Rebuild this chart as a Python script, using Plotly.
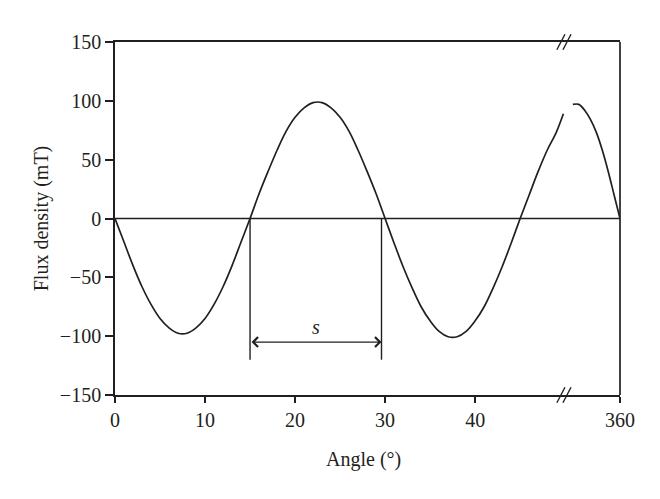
import plotly.graph_objects as go

# ---- data ----
angle_left = [0, 1, 2, 3, 4, 5, 6, 7, 8, 9, 10, 11, 12, 13, 14, 15,
              16, 17, 18, 19, 20, 21, 22, 23, 24, 25, 26, 27, 28, 29, 30,
              31, 32, 33, 34, 35, 36, 37, 38, 39, 40, 41, 42, 43, 44, 45,
              46, 47, 48, 49, 49.8]
flux_left = [0, -20, -40, -58, -73, -85, -93, -97.5, -97.5, -93, -85, -73, -58, -40, -20, 0,
             21, 40, 58, 74, 86, 94, 98.5, 98.5, 94, 86, 74, 58, 40, 21, 0,
             -21, -41, -59, -75, -87, -96, -100.5, -100.5, -96, -87, -75, -59, -41, -21, 0,
             20, 40, 58, 73, 89]
angle_right = [352, 353, 354, 355, 356, 357, 358, 359, 360]
flux_right = [97, 97, 92, 84, 73, 58, 40, 20, 0]

x_ticks_left = [0, 10, 20, 30, 40]
x_ticks_right = [360]
y_ticks = [-150, -100, -50, 0, 50, 100, 150]
s_start, s_end = 15, 29.6

INK = "#231f20"
FONT = "Liberation Serif"
FS = 20
SPLIT = 0.895

fig = go.Figure()
fig.add_trace(go.Scatter(x=angle_left, y=flux_left, mode="lines",
                         line=dict(color=INK, width=1.7, shape="spline", smoothing=1.0),
                         xaxis="x", yaxis="y", showlegend=False, hoverinfo="skip"))
fig.add_trace(go.Scatter(x=angle_right, y=flux_right, mode="lines",
                         line=dict(color=INK, width=1.7, shape="spline", smoothing=1.0),
                         xaxis="x2", yaxis="y", showlegend=False, hoverinfo="skip"))

common_x = dict(showline=True, linecolor=INK, linewidth=1.7, mirror=True, ticks="outside", ticklen=6,
                tickwidth=1.5, tickcolor=INK, showgrid=False, zeroline=False,
                tickfont=dict(family=FONT, size=FS, color=INK))

fig.update_layout(
    width=660, height=499,
    margin=dict(l=107, r=48, t=34, b=112),
    paper_bgcolor="white", plot_bgcolor="white",
    xaxis=dict(domain=[0, SPLIT], range=[0, 50.2], tickvals=x_ticks_left, **common_x),
    xaxis2=dict(domain=[SPLIT, 1], range=[351, 360], tickvals=x_ticks_right, anchor="y", **common_x),
    yaxis=dict(range=[-150, 150], tickvals=y_ticks, showline=True, linecolor=INK, linewidth=1.7, mirror=False,
               ticks="outside", ticklen=8, tickwidth=1.5, tickcolor=INK, showgrid=False, zeroline=False,
               tickfont=dict(family=FONT, size=FS, color=INK)),
)

shapes = []
# right border of the frame
shapes.append(dict(type="line", xref="paper", yref="paper", x0=1, x1=1, y0=0, y1=1,
                   line=dict(color=INK, width=1.7)))
# zero line across the whole plot
shapes.append(dict(type="line", xref="paper", yref="y", x0=0, x1=1, y0=0, y1=0, line=dict(color=INK, width=1.4)))
# vertical markers for s
for xv in (s_start, s_end):
    shapes.append(dict(type="line", xref="x", yref="y", x0=xv, x1=xv, y0=0, y1=-120, line=dict(color=INK, width=1.4)))
# break marks on top and bottom axes
for yb in (0, 1):
    for dx in (-0.012, 0.0):
        shapes.append(dict(type="line", xref="paper", yref="paper",
                           x0=SPLIT + dx - 0.008, x1=SPLIT + dx + 0.008,
                           y0=yb - 0.022, y1=yb + 0.022, line=dict(color=INK, width=1.4)))
fig.update_layout(shapes=shapes)

anns = []
anns.append(dict(x=s_end, y=-105, ax=s_start, ay=-105, xref="x", yref="y", axref="x", ayref="y",
                 text="", showarrow=True, arrowhead=4, startarrowhead=4, arrowside="end+start",
                 arrowsize=1.6, startarrowsize=1.6, arrowwidth=1.2, arrowcolor=INK))
anns.append(dict(x=(s_start + s_end) / 2, y=-92, xref="x", yref="y", text="<i>s</i>", showarrow=False,
                 font=dict(family=FONT, size=FS, color=INK)))
anns.append(dict(x=0.493, y=-0.184, xref="paper", yref="paper", text="Angle (°)", showarrow=False,
                 xanchor="center", yanchor="middle",
                 font=dict(family=FONT, size=FS, color=INK)))
anns.append(dict(x=-0.145, y=0.5, xref="paper", yref="paper", text="Flux density (mT)", showarrow=False,
                 xanchor="center", yanchor="middle", textangle=-90,
                 font=dict(family=FONT, size=FS, color=INK)))
fig.update_layout(annotations=anns)

fig.write_html("out.html")
